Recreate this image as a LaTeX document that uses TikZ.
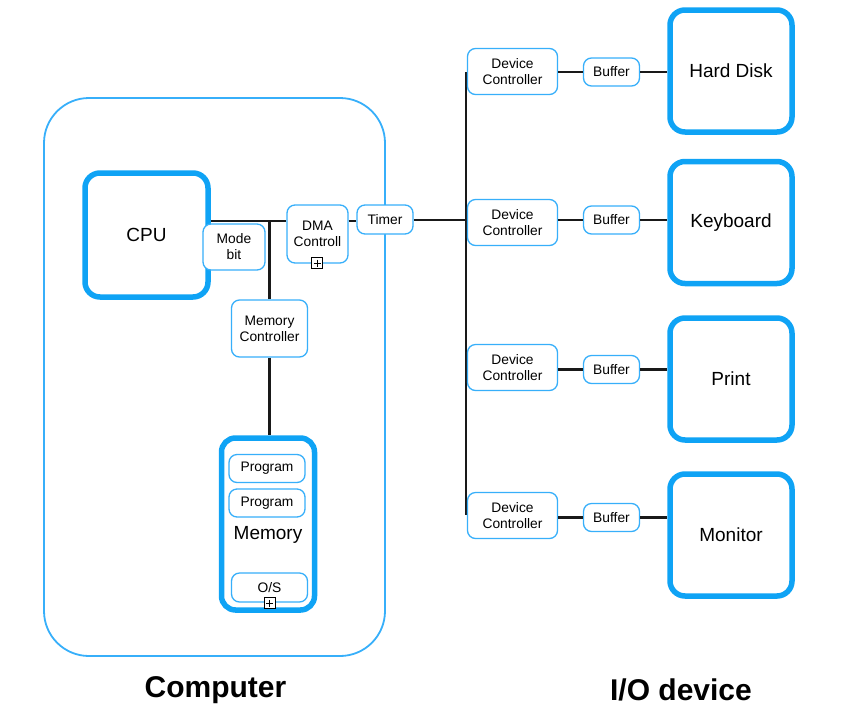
\documentclass[tikz,border=0pt]{standalone}
\usepackage{fontspec}
\setmainfont{Liberation Sans}
\definecolor{thickblue}{RGB}{15,163,245}
\definecolor{thinblue}{RGB}{55,175,250}
\begin{document}
\begin{tikzpicture}[x=1pt,y=-1pt,
  smallbox/.style={draw=thinblue, line width=1.3pt, rounded corners=8pt, fill=white,
    align=center, inner sep=0pt, font=\fontsize{13.8}{16}\selectfont},
  bigbox/.style={draw=thickblue, line width=5.5pt, rounded corners=15pt, fill=white,
    align=center, inner sep=0pt, font=\fontsize{19}{22}\selectfont},
  wire/.style={line width=2.8pt, draw=black!90},
  plusbox/.style={draw=black, fill=white, line width=0.8pt, minimum size=11pt, inner sep=0pt,
    path picture={\draw[line width=0.8pt]
      ([yshift=-2pt]path picture bounding box.north) -- ([yshift=2pt]path picture bounding box.south)
      ([xshift=2pt]path picture bounding box.west) -- ([xshift=-2pt]path picture bounding box.east);}},
  caption/.style={font=\fontsize{30}{33}\selectfont\bfseries, inner sep=0pt}
]
\useasboundingbox (0,0) rectangle (843,721);

% computer frame
\node[draw=thinblue, line width=1.8pt, rounded corners=45pt, minimum width=341pt, minimum height=558pt,
  inner sep=0pt] (computer) at (214.5,377) {};

% junctions and bus
\coordinate (j) at (269.5,221);
\coordinate (bustop) at (466,72);
\coordinate (busbot) at (466,515);
\coordinate (busmid) at (466,220);

% CPU side
\node[bigbox, minimum width=123pt, minimum height=124pt] (cpu) at (146.5,235) {CPU};
\node[smallbox, minimum width=61pt, minimum height=58pt] (dma) at (317.5,234) {DMA\\Controll};
\node[plusbox] (dmaplus) at (317,263) {};
\node[smallbox, minimum width=56pt, minimum height=29pt] (timer) at (385,219.5) {Timer};
\node[smallbox, minimum width=76pt, minimum height=57pt] (mc) at (269.5,328.5) {Memory\\Controller};

% memory
\node[bigbox, minimum width=93pt, minimum height=172pt, rounded corners=14pt] (mem) at (268,524) {};
\node[font=\fontsize{19}{22}\selectfont, inner sep=0pt] (memlabel) at (268,535) {Memory};
\node[smallbox, minimum width=76pt, minimum height=28pt] (prog1) at (267,468.5) {Program};
\node[smallbox, minimum width=76pt, minimum height=28pt] (prog2) at (267,503) {Program};
\node[smallbox, minimum width=76pt, minimum height=29pt] (os) at (269.5,587.5) {O/S};
\node[plusbox] (osplus) at (269.5,603) {};

% wires computer side
\draw[wire] (cpu.east |- j) -- (dma.west |- j);
\draw[wire] (j) -- (mc.north);
\draw[wire] (mc.south) -- (mc.south |- mem.north);
\draw[wire] (dma.east |- j) -- (timer.west |- j);
\draw[wire] (timer.east |- busmid) -- (busmid);
\draw[wire] (bustop) -- (busbot);

% mode bit on top of cpu border
\node[smallbox, minimum width=62pt, minimum height=46pt] (mode) at (234,247) {Mode\\bit};

% I/O side
\foreach \i/\dy/\by/\vy/\name in {1/71.5/72/71/Hard Disk, 2/222.5/220/222.5/Keyboard, 3/367.5/369.5/379/Print, 4/515.5/517.5/535/Monitor}{
  \node[smallbox, minimum width=90pt, minimum height=46pt] (dc\i) at (512.5,\dy) {Device\\Controller};
  \node[smallbox, minimum width=56pt, minimum height=28pt] (buf\i) at (611.5,\by) {Buffer};
  \node[bigbox, minimum width=122pt, minimum height=122pt] (dev\i) at (731,\vy) {\name};
  \draw[wire] (buf\i.west -| dc\i.east) -- (buf\i.west);
  \draw[wire] (buf\i.east) -- (buf\i.east -| dev\i.west);
}

% captions
\node[caption] (capcomp) at (215.5,690) {Computer};
\node[caption] (capio) at (681,690) {I/O device};
\end{tikzpicture}
\end{document}
